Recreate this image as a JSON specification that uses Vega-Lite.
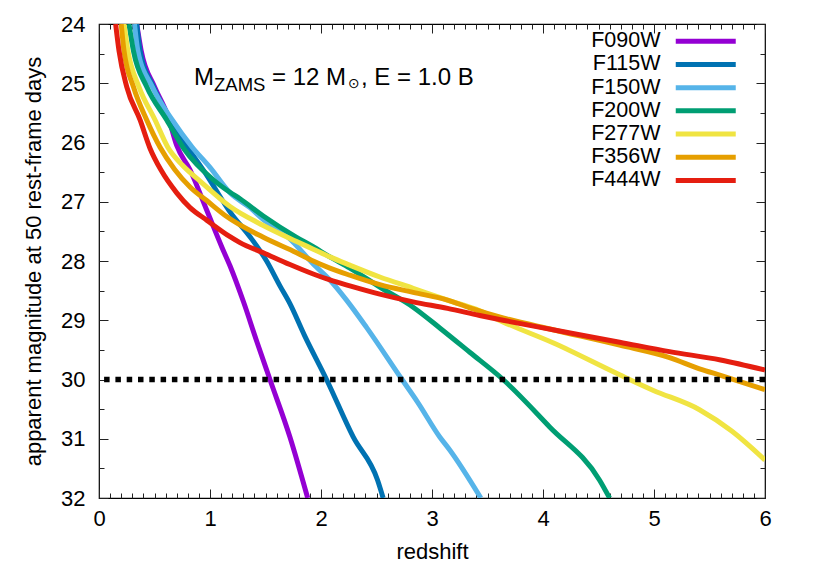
{
  "$schema": "https://vega.github.io/schema/vega-lite/v6.json",
  "autosize": {"type": "none"},
  "width": 666,
  "height": 474,
  "padding": {"left": 99, "top": 24, "right": 52, "bottom": 74},
  "background": "white",
  "config": {
    "view": {"stroke": "black", "strokeWidth": 1.2},
    "font": "Liberation Sans",
    "scale": {"continuousPadding": 0},
    "axis": {"domain": false, "grid": false, "labelFlush": false, "labelOverlap": false, "labelFont": "Liberation Sans", "titleFont": "Liberation Sans", "labelFontSize": 22, "titleFontSize": 22, "titleFontWeight": "normal", "labelColor": "black", "titleColor": "black", "tickColor": "#222", "tickWidth": 1},
    "legend": {"labelFont": "Liberation Sans"}
  },
  "datasets": {"curves": [
    {"band":"F090W","z":0.34,"m":24.0},{"band":"F090W","z":0.38,"m":24.45},{"band":"F090W","z":0.5,"m":25.06},{"band":"F090W","z":0.62,"m":25.55},{"band":"F090W","z":0.7,"m":26.05},{"band":"F090W","z":0.82,"m":26.46},{"band":"F090W","z":0.97,"m":27.14},{"band":"F090W","z":1.11,"m":27.78},{"band":"F090W","z":1.18,"m":28.08},{"band":"F090W","z":1.3,"m":28.68},{"band":"F090W","z":1.42,"m":29.35},{"band":"F090W","z":1.54,"m":30.0},{"band":"F090W","z":1.72,"m":30.97},{"band":"F090W","z":1.88,"m":32.0},
    {"band":"F115W","z":0.34,"m":24.0},{"band":"F115W","z":0.37,"m":24.45},{"band":"F115W","z":0.49,"m":25.06},{"band":"F115W","z":0.64,"m":25.6},{"band":"F115W","z":0.75,"m":25.95},{"band":"F115W","z":0.86,"m":26.25},{"band":"F115W","z":0.97,"m":26.55},{"band":"F115W","z":1.12,"m":27.0},{"band":"F115W","z":1.18,"m":27.17},{"band":"F115W","z":1.36,"m":27.59},{"band":"F115W","z":1.51,"m":28.0},{"band":"F115W","z":1.63,"m":28.42},{"band":"F115W","z":1.72,"m":28.72},{"band":"F115W","z":1.85,"m":29.25},{"band":"F115W","z":2.05,"m":30.0},{"band":"F115W","z":2.29,"m":30.97},{"band":"F115W","z":2.51,"m":31.7},{"band":"F115W","z":2.56,"m":32.0},
    {"band":"F150W","z":0.32,"m":24.0},{"band":"F150W","z":0.35,"m":24.45},{"band":"F150W","z":0.48,"m":25.06},{"band":"F150W","z":0.66,"m":25.62},{"band":"F150W","z":0.84,"m":26.08},{"band":"F150W","z":1.0,"m":26.42},{"band":"F150W","z":1.18,"m":26.85},{"band":"F150W","z":1.36,"m":27.1},{"band":"F150W","z":1.48,"m":27.3},{"band":"F150W","z":1.71,"m":27.61},{"band":"F150W","z":1.93,"m":28.05},{"band":"F150W","z":2.08,"m":28.32},{"band":"F150W","z":2.23,"m":28.66},{"band":"F150W","z":2.41,"m":29.12},{"band":"F150W","z":2.73,"m":30.0},{"band":"F150W","z":2.87,"m":30.38},{"band":"F150W","z":3.07,"m":30.97},{"band":"F150W","z":3.16,"m":31.19},{"band":"F150W","z":3.44,"m":32.0},
    {"band":"F200W","z":0.27,"m":24.0},{"band":"F200W","z":0.31,"m":24.45},{"band":"F200W","z":0.43,"m":25.06},{"band":"F200W","z":0.61,"m":25.62},{"band":"F200W","z":0.77,"m":26.12},{"band":"F200W","z":1.03,"m":26.63},{"band":"F200W","z":1.18,"m":26.84},{"band":"F200W","z":1.27,"m":26.95},{"band":"F200W","z":1.48,"m":27.24},{"band":"F200W","z":1.78,"m":27.6},{"band":"F200W","z":1.93,"m":27.76},{"band":"F200W","z":2.08,"m":27.93},{"band":"F200W","z":2.26,"m":28.12},{"band":"F200W","z":2.53,"m":28.44},{"band":"F200W","z":2.83,"m":28.78},{"band":"F200W","z":3.07,"m":29.13},{"band":"F200W","z":3.34,"m":29.54},{"band":"F200W","z":3.64,"m":30.0},{"band":"F200W","z":4.06,"m":30.8},{"band":"F200W","z":4.51,"m":31.7},{"band":"F200W","z":4.6,"m":32.0},
    {"band":"F277W","z":0.225,"m":24.0},{"band":"F277W","z":0.26,"m":24.45},{"band":"F277W","z":0.36,"m":25.06},{"band":"F277W","z":0.505,"m":25.62},{"band":"F277W","z":0.62,"m":26.08},{"band":"F277W","z":0.75,"m":26.38},{"band":"F277W","z":0.91,"m":26.65},{"band":"F277W","z":1.18,"m":27.08},{"band":"F277W","z":1.48,"m":27.4},{"band":"F277W","z":1.78,"m":27.67},{"band":"F277W","z":1.93,"m":27.8},{"band":"F277W","z":2.08,"m":27.93},{"band":"F277W","z":2.26,"m":28.07},{"band":"F277W","z":2.53,"m":28.27},{"band":"F277W","z":2.83,"m":28.46},{"band":"F277W","z":3.14,"m":28.66},{"band":"F277W","z":3.43,"m":28.84},{"band":"F277W","z":3.63,"m":29.02},{"band":"F277W","z":4.09,"m":29.38},{"band":"F277W","z":4.69,"m":29.92},{"band":"F277W","z":4.99,"m":30.18},{"band":"F277W","z":5.41,"m":30.51},{"band":"F277W","z":5.7,"m":30.87},{"band":"F277W","z":6.0,"m":31.36},
    {"band":"F356W","z":0.2,"m":24.0},{"band":"F356W","z":0.225,"m":24.45},{"band":"F356W","z":0.31,"m":25.06},{"band":"F356W","z":0.43,"m":25.62},{"band":"F356W","z":0.55,"m":26.08},{"band":"F356W","z":0.68,"m":26.45},{"band":"F356W","z":0.82,"m":26.75},{"band":"F356W","z":0.97,"m":26.98},{"band":"F356W","z":1.15,"m":27.25},{"band":"F356W","z":1.48,"m":27.6},{"band":"F356W","z":1.78,"m":27.86},{"band":"F356W","z":1.93,"m":28.0},{"band":"F356W","z":2.08,"m":28.12},{"band":"F356W","z":2.26,"m":28.24},{"band":"F356W","z":2.53,"m":28.4},{"band":"F356W","z":2.83,"m":28.53},{"band":"F356W","z":3.14,"m":28.66},{"band":"F356W","z":3.34,"m":28.79},{"band":"F356W","z":3.64,"m":28.96},{"band":"F356W","z":4.09,"m":29.16},{"band":"F356W","z":4.69,"m":29.42},{"band":"F356W","z":5.14,"m":29.63},{"band":"F356W","z":5.41,"m":29.82},{"band":"F356W","z":5.6,"m":29.93},{"band":"F356W","z":6.0,"m":30.17},
    {"band":"F444W","z":0.15,"m":24.0},{"band":"F444W","z":0.18,"m":24.45},{"band":"F444W","z":0.25,"m":25.06},{"band":"F444W","z":0.37,"m":25.62},{"band":"F444W","z":0.46,"m":26.1},{"band":"F444W","z":0.56,"m":26.47},{"band":"F444W","z":0.7,"m":26.85},{"band":"F444W","z":0.82,"m":27.1},{"band":"F444W","z":0.97,"m":27.31},{"band":"F444W","z":1.18,"m":27.59},{"band":"F444W","z":1.27,"m":27.69},{"band":"F444W","z":1.48,"m":27.86},{"band":"F444W","z":1.72,"m":28.06},{"band":"F444W","z":1.93,"m":28.22},{"band":"F444W","z":2.08,"m":28.32},{"band":"F444W","z":2.26,"m":28.42},{"band":"F444W","z":2.53,"m":28.56},{"band":"F444W","z":2.83,"m":28.69},{"band":"F444W","z":3.14,"m":28.8},{"band":"F444W","z":3.43,"m":28.92},{"band":"F444W","z":3.64,"m":29.0},{"band":"F444W","z":4.09,"m":29.16},{"band":"F444W","z":4.69,"m":29.37},{"band":"F444W","z":5.14,"m":29.53},{"band":"F444W","z":5.6,"m":29.67},{"band":"F444W","z":6.0,"m":29.84}
  ], "one": [{"k": 1}]},
  "resolve": {"axis": {"x": "independent", "y": "independent"}},
  "layer": [
    {
      "data": {"name": "curves"},
      "mark": {"type": "line", "interpolate": "monotone", "strokeWidth": 5, "clip": true},
      "encoding": {
        "x": {"field": "z", "type": "quantitative", "scale": {"domain": [0, 6], "nice": false, "zero": false, "padding": 0},
              "axis": {"orient": "bottom", "values": [0,0.1,0.2,0.3,0.4,0.5,0.6,0.7,0.8,0.9,1,1.1,1.2,1.3,1.4,1.5,1.6,1.7,1.8,1.9,2,2.1,2.2,2.3,2.4,2.5,2.6,2.7,2.8,2.9,3,3.1,3.2,3.3,3.4,3.5,3.6,3.7,3.8,3.9,4,4.1,4.2,4.3,4.4,4.5,4.6,4.7,4.8,4.9,5,5.1,5.2,5.3,5.4,5.5,5.6,5.7,5.8,5.9,6],
                       "tickSize": {"condition": {"test": "datum.value % 1 === 0", "value": -9}, "value": -5},
                       "labelExpr": "datum.value % 1 === 0 ? format(datum.value, 'd') : ''",
                       "labelPadding": 19, "title": "redshift", "titlePadding": 8}},
        "y": {"field": "m", "type": "quantitative", "scale": {"domain": [24, 32], "nice": false, "zero": false, "reverse": true, "padding": 0},
              "axis": {"orient": "left", "values": [24,25,26,27,28,29,30,31,32], "ticks": false, "offset": 12,
                       "labelExpr": "format(datum.value, 'd')",
                       "labelPadding": 2, "title": "apparent magnitude at 50 rest-frame days", "titlePadding": 15}},
        "color": {"field": "band", "type": "nominal",
                  "scale": {"domain": ["F090W","F115W","F150W","F200W","F277W","F356W","F444W"], "range": ["#9400D3","#0072B2","#56B4E9","#009E73","#F0E442","#E69F00","#E51E10"]},
                  "legend": {"orient": "none", "legendX": 596, "legendY": 6.5, "title": null, "symbolType": "M-5,0H5", "symbolSize": 144, "symbolStrokeWidth": 5, "labelAlign": "right", "labelOffset": -56, "labelFontSize": 21.5, "labelColor": "black", "rowPadding": 0.2, "padding": 0}}
      }
    },
    {
      "data": {"name": "curves"},
      "mark": {"type": "point", "opacity": 0},
      "encoding": {
        "x": {"field": "z", "type": "quantitative",
              "axis": {"orient": "top", "values": [0,0.1,0.2,0.3,0.4,0.5,0.6,0.7,0.8,0.9,1,1.1,1.2,1.3,1.4,1.5,1.6,1.7,1.8,1.9,2,2.1,2.2,2.3,2.4,2.5,2.6,2.7,2.8,2.9,3,3.1,3.2,3.3,3.4,3.5,3.6,3.7,3.8,3.9,4,4.1,4.2,4.3,4.4,4.5,4.6,4.7,4.8,4.9,5,5.1,5.2,5.3,5.4,5.5,5.6,5.7,5.8,5.9,6],
                       "tickSize": {"condition": {"test": "datum.value % 1 === 0", "value": -9}, "value": -5},
                       "labels": false, "title": null}},
        "y": {"field": "m", "type": "quantitative",
              "axis": {"orient": "right", "values": [24,24.5,25,25.5,26,26.5,27,27.5,28,28.5,29,29.5,30,30.5,31,31.5,32],
                       "tickSize": {"condition": {"test": "datum.value % 1 === 0", "value": -9}, "value": -5},
                       "labels": false, "title": null}}
      }
    },
    {
      "data": {"name": "curves"},
      "mark": {"type": "point", "opacity": 0},
      "encoding": {
        "y": {"field": "m", "type": "quantitative",
              "axis": {"orient": "left", "values": [24,24.5,25,25.5,26,26.5,27,27.5,28,28.5,29,29.5,30,30.5,31,31.5,32],
                       "tickSize": {"condition": {"test": "datum.value % 1 === 0", "value": -9}, "value": -5},
                       "labels": false, "title": null}}
      }
    },
    {
      "data": {"name": "one"},
      "mark": {"type": "rule", "color": "black", "strokeWidth": 5.5, "strokeDash": [5.5, 5.8]},
      "encoding": {"y": {"datum": 30, "axis": null}}
    },
    {
      "data": {"name": "one"},
      "mark": {"type": "text", "align": "left", "baseline": "alphabetic", "fontSize": 24, "font": "Liberation Sans", "fill": "black", "text": "M"},
      "encoding": {"x": {"datum": 0.856, "axis": null}, "y": {"datum": 25.03, "axis": null}}
    },
    {
      "data": {"name": "one"},
      "mark": {"type": "text", "align": "left", "baseline": "alphabetic", "fontSize": 18.5, "font": "Liberation Sans", "fill": "black", "text": "ZAMS"},
      "encoding": {"x": {"datum": 1.036, "axis": null}, "y": {"datum": 25.13, "axis": null}}
    },
    {
      "data": {"name": "one"},
      "mark": {"type": "text", "align": "left", "baseline": "alphabetic", "fontSize": 24, "font": "Liberation Sans", "fill": "black", "text": "= 12 M"},
      "encoding": {"x": {"datum": 1.559, "axis": null}, "y": {"datum": 25.03, "axis": null}}
    },
    {
      "data": {"name": "one"},
      "mark": {"type": "text", "align": "left", "baseline": "alphabetic", "fontSize": 14, "font": "DejaVu Sans", "fill": "black", "text": "⊙"},
      "encoding": {"x": {"datum": 2.243, "axis": null}, "y": {"datum": 25.08, "axis": null}}
    },
    {
      "data": {"name": "one"},
      "mark": {"type": "text", "align": "left", "baseline": "alphabetic", "fontSize": 24, "font": "Liberation Sans", "fill": "black", "text": ", E = 1.0 B"},
      "encoding": {"x": {"datum": 2.36, "axis": null}, "y": {"datum": 25.03, "axis": null}}
    }
  ]
}
